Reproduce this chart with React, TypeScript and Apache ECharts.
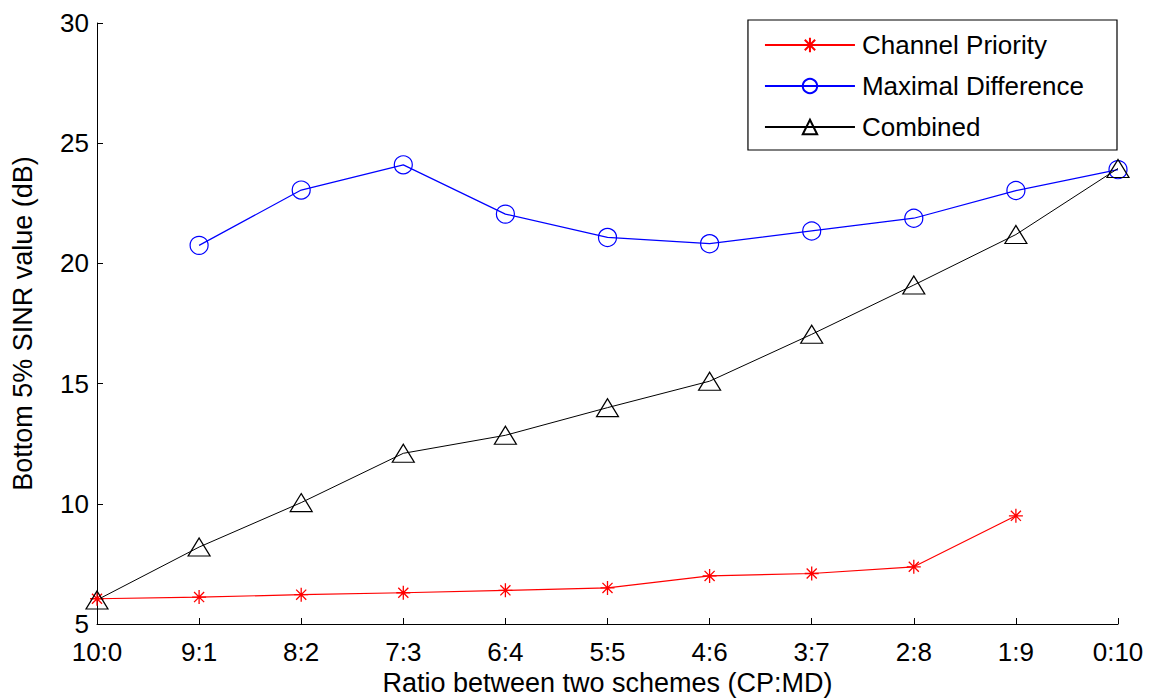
import React, { useEffect, useRef } from "react";
import * as echarts from "echarts";

const categories = ["10:0", "9:1", "8:2", "7:3", "6:4", "5:5", "4:6", "3:7", "2:8", "1:9", "0:10"];
const channelPriority = [6.05, 6.12, 6.22, 6.3, 6.4, 6.5, 7.0, 7.1, 7.38, 9.5, null];
const maximalDifference = [null, 20.75, 23.05, 24.1, 22.05, 21.08, 20.82, 21.35, 21.88, 23.03, 23.9];
const combined = [6.0, 8.2, 10.05, 12.1, 12.85, 14.0, 15.1, 17.05, 19.1, 21.2, 23.95];
const yTicks = { min: 5, max: 30, interval: 5 };

const STAR = "path://M0,-5L0,5M-5,0L5,0M-3.6,-3.6L3.6,3.6M-3.6,3.6L3.6,-3.6";
const TRI = "path://M0,-10L11,8L-11,8Z";
const FONT = "'Liberation Sans', Arial, sans-serif";

export default function App() {
  const ref = useRef<HTMLDivElement>(null);
  useEffect(() => {
    if (!ref.current) return;
    const chart = echarts.init(ref.current, undefined, { renderer: "svg" });
    chart.setOption({
      animation: false,
      backgroundColor: "#ffffff",
      textStyle: { fontFamily: FONT, color: "#000" },
      grid: { left: 97, right: 41, top: 23, bottom: 75, outerBoundsMode: "none", containLabel: false },
      legend: {
        orient: "vertical",
        right: 42,
        top: 20,
        itemWidth: 90,
        itemHeight: 18,
        itemGap: 15,
        padding: [12, 33, 10, 16],
        borderColor: "#000",
        borderWidth: 1.2,
        backgroundColor: "#fff",
        textStyle: { fontSize: 26, color: "#000", fontFamily: FONT, padding: [0, 0, 0, 2] },
        data: ["Channel Priority", "Maximal Difference", "Combined"],
      },
      xAxis: {
        type: "category",
        data: categories,
        boundaryGap: false,
        axisLine: { lineStyle: { color: "#000", width: 1 } },
        axisTick: { inside: true, length: 6, lineStyle: { color: "#000" } },
        axisLabel: { fontSize: 26, lineHeight: 20, color: "#000", margin: 18, fontFamily: FONT },
        name: "Ratio between two schemes (CP:MD)",
        nameLocation: "middle",
        nameGap: 40,
        nameTextStyle: { fontSize: 27, color: "#000", fontFamily: FONT },
        splitLine: { show: false },
      },
      yAxis: {
        type: "value",
        min: yTicks.min,
        max: yTicks.max,
        interval: yTicks.interval,
        axisLine: { show: true, lineStyle: { color: "#000", width: 1 } },
        axisTick: { show: true, inside: true, length: 6, lineStyle: { color: "#000" } },
        axisLabel: { fontSize: 26, lineHeight: 20, color: "#000", margin: 8, fontFamily: FONT },
        name: "Bottom 5% SINR value (dB)",
        nameLocation: "middle",
        nameGap: 61,
        nameTextStyle: { fontSize: 27, color: "#000", fontFamily: FONT },
        splitLine: { show: false },
      },
      series: [
        {
          name: "Channel Priority",
          type: "line",
          data: channelPriority,
          symbol: STAR,
          symbolSize: 14,
          lineStyle: { color: "#ff0000", width: 1.2 },
          itemStyle: { color: "#ff0000", borderColor: "#ff0000", borderWidth: 1.3 },
        },
        {
          name: "Maximal Difference",
          type: "line",
          data: maximalDifference,
          symbol: "circle",
          symbolSize: 18,
          lineStyle: { color: "#0000ff", width: 1.2 },
          itemStyle: { color: "rgba(0,0,0,0)", borderColor: "#0000ff", borderWidth: 1.2 },
        },
        {
          name: "Combined",
          type: "line",
          data: combined,
          symbol: TRI,
          symbolSize: [22, 18],
          lineStyle: { color: "#000000", width: 1 },
          itemStyle: { color: "rgba(0,0,0,0)", borderColor: "#000000", borderWidth: 1.2 },
        },
      ],
    });
    return () => chart.dispose();
  }, []);
  return <div ref={ref} style={{ width: 1159, height: 699, position: "absolute", left: 0, top: 0 }} />;
}
